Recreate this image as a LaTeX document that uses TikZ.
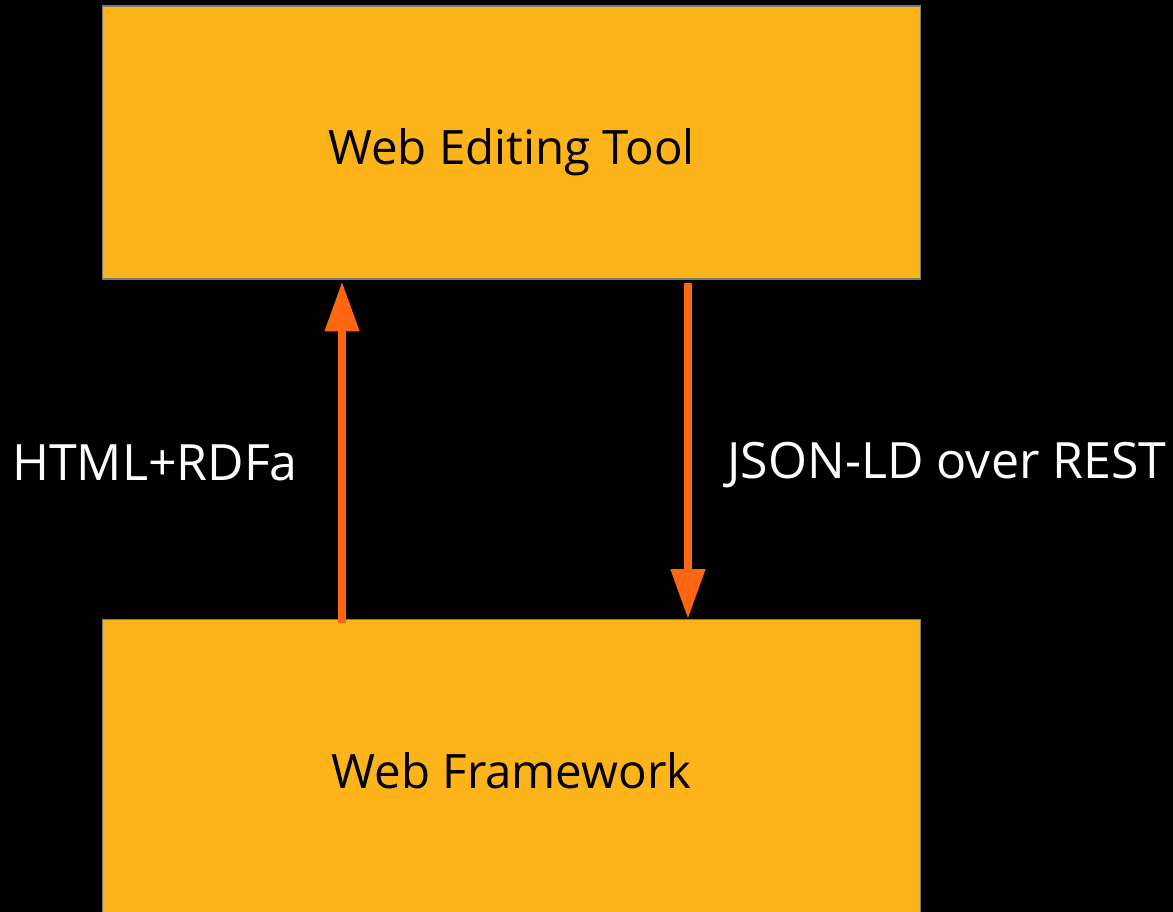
\documentclass[tikz,border=0pt]{standalone}
\usepackage{fontspec}
\setmainfont{Open Sans}
\usetikzlibrary{arrows.meta, positioning}
\definecolor{boxfill}{RGB}{253, 180, 26}
\definecolor{flowcol}{RGB}{255, 102, 17}
\definecolor{edge}{RGB}{120, 120, 120}
\tikzset{
    block/.style={rectangle, minimum width=16.38cm, text centered, draw=edge, line width=0.6pt, fill=boxfill, font=\fontsize{27}{32}\selectfont},
    flow/.style={line width=0.16cm, draw=flowcol, -{Triangle[width=0.66cm, length=1cm]}},
    tag/.style={text=white, font=\fontsize{28.5}{34}\selectfont},
}
\begin{document}
\begin{tikzpicture}[x=0.02cm, y=-0.02cm, node distance=6.8cm]
  \fill[black] (0,0) rectangle (1173,912);
  \useasboundingbox (0,0) rectangle (1173,912);

  \node[block, minimum height=5.46cm, text height=1.12cm, text depth=0.23cm] (tool)  at (511.5,142.5) {Web Editing Tool};
  \node[block, minimum height=6.04cm, anchor=north] (frame) at (511.5,619) {Web Framework};

  \draw[flow] ([xshift=-3.39cm, yshift=-0.08cm]frame.north) -- ([xshift=-3.39cm, yshift=-0.04cm]tool.south);
  \draw[flow] ([xshift=3.53cm, yshift=-0.08cm]tool.south) -- ([xshift=3.53cm]frame.north);

  \node[tag] (html) at (155,463) {HTML+RDFa};
  \node[tag] (json) at (947,465) {JSON-LD over REST};
\end{tikzpicture}
\end{document}
